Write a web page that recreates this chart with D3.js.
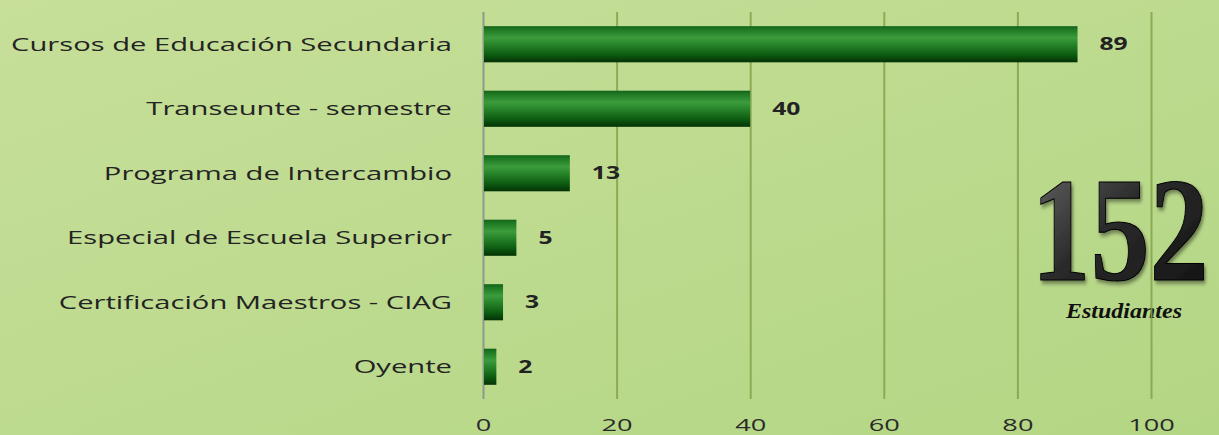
<!DOCTYPE html>
<html>
<head>
<meta charset="utf-8">
<script src="https://cdn.jsdelivr.net/npm/d3@7"></script>
<style>
  body { margin: 0; overflow: hidden; }
  text { font-family: "Open Sans", sans-serif; }
</style>
</head>
<body>
<div id="chart"></div>
<script>
const categories = [
  "Cursos de Educación Secundaria",
  "Transeunte - semestre",
  "Programa de Intercambio",
  "Especial de Escuela Superior",
  "Certificación Maestros - CIAG",
  "Oyente"
];
const values = [89, 40, 13, 5, 3, 2];
const xTicks = [0, 20, 40, 60, 80, 100];
const totalLabel = "152";
const totalCaption = "Estudiantes";

const width = 1219, height = 435;
const stretch = 1.6; // the original picture is stretched sideways

const svg = d3.select("#chart")
              .append("svg")
              .attr("width", width)
              .attr("height", height);

const defs = svg.append("defs");

const bg = defs.append("linearGradient")
               .attr("id", "bg")
               .attr("x1", 0).attr("y1", 0)
               .attr("x2", 1).attr("y2", 1);
bg.append("stop").attr("offset", "0%").attr("stop-color", "#c7df99");
bg.append("stop").attr("offset", "100%").attr("stop-color", "#b3d684");

const barGrad = defs.append("linearGradient")
                    .attr("id", "barGrad")
                    .attr("x1", 0).attr("y1", 0)
                    .attr("x2", 0).attr("y2", 1);
[["0%", "#12621a"], ["8%", "#1d7621"], ["32%", "#3c9c3d"], ["48%", "#2a882c"],
 ["78%", "#0e5d12"], ["100%", "#033204"]].forEach(s => {
  barGrad.append("stop").attr("offset", s[0]).attr("stop-color", s[1]);
});

const numGrad = defs.append("linearGradient")
                    .attr("id", "numGrad")
                    .attr("x1", 0).attr("y1", 0)
                    .attr("x2", 1).attr("y2", 1);
numGrad.append("stop").attr("offset", "0%").attr("stop-color", "#6e6e6e");
numGrad.append("stop").attr("offset", "45%").attr("stop-color", "#2a2a2a");
numGrad.append("stop").attr("offset", "100%").attr("stop-color", "#111");

const shadow = defs.append("filter").attr("id", "shadow")
                   .attr("x", "-10%").attr("y", "-10%")
                   .attr("width", "130%").attr("height", "130%");
shadow.append("feDropShadow")
      .attr("dx", 2).attr("dy", 3)
      .attr("stdDeviation", 2)
      .attr("flood-color", "#000")
      .attr("flood-opacity", 0.45);

svg.append("rect")
   .attr("width", width)
   .attr("height", height)
   .attr("fill", "url(#bg)");

const xScale = d3.scaleLinear()
                 .domain([0, 100])
                 .range([483, 1151]);

const yScale = d3.scaleBand()
                 .domain(categories)
                 .range([12, 399])
                 .paddingInner(0.44)
                 .paddingOuter(0.22);

function widen(sel, factor) {
  sel.each(function () {
    const w = this.getComputedTextLength();
    d3.select(this)
      .attr("textLength", w * factor)
      .attr("lengthAdjust", "spacingAndGlyphs");
  });
}

// big total, drawn under the grid
svg.append("text")
   .attr("transform", "translate(1120,280) scale(0.8,1)")
   .attr("text-anchor", "middle")
   .style("font-family", "'Liberation Serif', serif")
   .style("font-weight", "700")
   .style("font-size", "148px")
   .attr("fill", "url(#numGrad)")
   .attr("stroke", "#000")
   .attr("stroke-width", 1)
   .attr("filter", "url(#shadow)")
   .text(totalLabel);

svg.append("text")
   .attr("x", 1124)
   .attr("y", 318)
   .attr("text-anchor", "middle")
   .style("font-family", "'Liberation Serif', serif")
   .style("font-style", "italic")
   .style("font-weight", "700")
   .style("font-size", "22px")
   .attr("fill", "#111")
   .attr("textLength", 116)
   .attr("lengthAdjust", "spacingAndGlyphs")
   .text(totalCaption);

// grid + x axis labels
const xAxis = d3.axisBottom(xScale)
                .tickValues(xTicks)
                .tickSize(-(399 - 12))
                .tickPadding(20);

const xAxisGroup = svg.append("g")
                      .attr("transform", "translate(0,399)")
                      .call(xAxis);
xAxisGroup.select(".domain").remove();
xAxisGroup.selectAll(".tick line")
          .attr("stroke", d => d === 0 ? "#8e9a8a" : "#84a24a")
          .attr("stroke-width", 2)
          .attr("stroke-opacity", d => d === 0 ? 1 : 0.85);
xAxisGroup.selectAll(".tick text")
          .style("font-size", "17px")
          .attr("fill", "#2a2a2a");
widen(xAxisGroup.selectAll(".tick text"), stretch);

// bars
svg.append("g")
   .selectAll("rect")
   .data(values)
   .join("rect")
   .attr("x", xScale(0) + 1)
   .attr("y", (d, i) => yScale(categories[i]))
   .attr("width", d => xScale(d) - xScale(0) - 1)
   .attr("height", yScale.bandwidth())
   .attr("fill", "url(#barGrad)");

// value labels
const valueLabels = svg.append("g")
   .selectAll("text")
   .data(values)
   .join("text")
   .attr("x", d => xScale(d) + 22)
   .attr("y", (d, i) => yScale(categories[i]) + yScale.bandwidth() / 2)
   .attr("dy", "0.35em")
   .style("font-size", "17px")
   .style("font-weight", "700")
   .attr("fill", "#222")
   .text(d => d);
widen(valueLabels, 1.45);

// category labels
const catLabels = svg.append("g")
   .selectAll("text")
   .data(categories)
   .join("text")
   .attr("x", 452)
   .attr("y", d => yScale(d) + yScale.bandwidth() / 2)
   .attr("dy", "0.35em")
   .attr("text-anchor", "end")
   .style("font-size", "18px")
   .attr("fill", "#232323")
   .text(d => d);
widen(catLabels, 1.62);
</script>
</body>
</html>
